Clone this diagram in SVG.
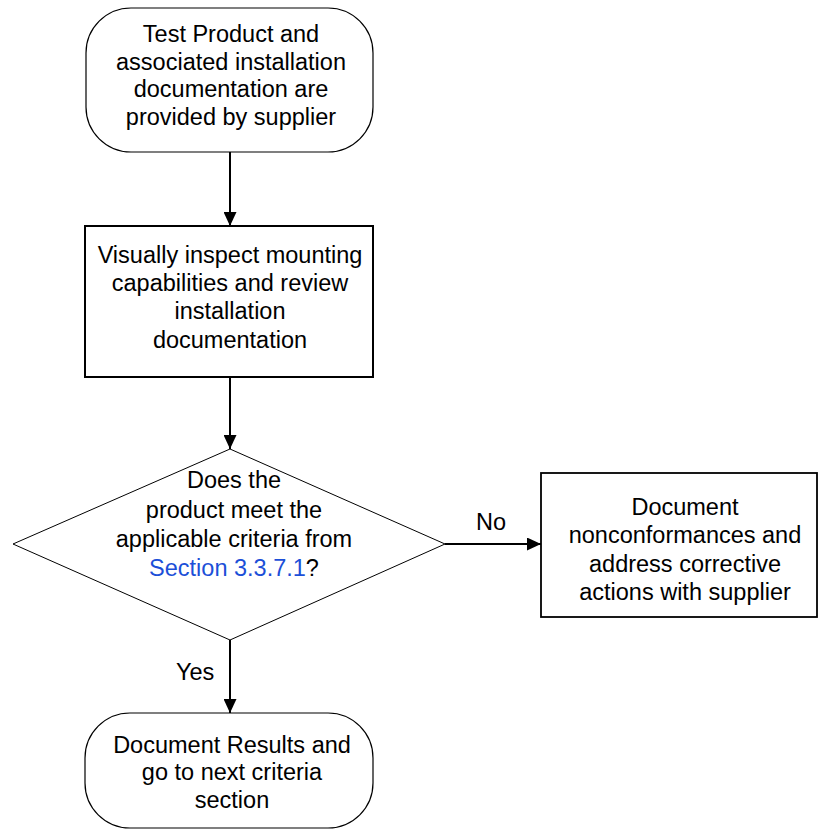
<svg xmlns="http://www.w3.org/2000/svg" width="819" height="830" viewBox="0 0 819 830">
<defs>
<style>
.t{font-family:"Liberation Sans",Arial,sans-serif;font-size:23.5px;fill:#000;text-anchor:middle}
.lbl{font-family:"Liberation Sans",Arial,sans-serif;font-size:23.5px;fill:#000}
.link{fill:#1c4fd8}
.edge{stroke:#000;stroke-width:2;fill:none}
</style>
<marker id="ah" markerWidth="14" markerHeight="13" refX="14" refY="6.5" orient="auto" markerUnits="userSpaceOnUse">
<path d="M0,0 L14,6.5 L0,13 Z" fill="#000"/>
</marker>
</defs>
<rect width="819" height="830" fill="#fff"/>
<g id="start">
<rect x="86" y="8" width="287" height="144" rx="45" ry="45" fill="#fff" stroke="#000" stroke-width="1.2"/>
<text class="t"><tspan x="231" y="42">Test Product and</tspan><tspan x="231" y="70">associated installation</tspan><tspan x="231" y="97">documentation are</tspan><tspan x="231" y="125">provided by supplier</tspan></text>
</g>
<g id="inspect">
<rect x="85" y="226" width="288" height="151" fill="#fff" stroke="#000" stroke-width="2"/>
<text class="t"><tspan x="230" y="263">Visually inspect mounting</tspan><tspan x="230" y="291">capabilities and review</tspan><tspan x="230" y="319">installation</tspan><tspan x="230" y="348">documentation</tspan></text>
</g>
<g id="decision">
<polygon points="230,449 445,544 230,640 13,544" fill="#fff" stroke="#000" stroke-width="1"/>
<text class="t"><tspan x="234" y="488">Does the</tspan><tspan x="234" y="518">product meet the</tspan><tspan x="234" y="547">applicable criteria from</tspan><tspan x="234" y="576"><tspan class="link">Section 3.3.7.1</tspan>?</tspan></text>
</g>
<g id="nonconform">
<rect x="541" y="473" width="276" height="144" fill="#fff" stroke="#000" stroke-width="1.8"/>
<text class="t"><tspan x="685" y="515">Document</tspan><tspan x="685" y="543">nonconformances and</tspan><tspan x="685" y="572">address corrective</tspan><tspan x="685" y="600">actions with supplier</tspan></text>
</g>
<g id="results">
<rect x="85" y="713" width="288" height="115" rx="45" ry="45" fill="#fff" stroke="#000" stroke-width="1.2"/>
<text class="t"><tspan x="232" y="753">Document Results and</tspan><tspan x="232" y="780">go to next criteria</tspan><tspan x="232" y="808">section</tspan></text>
</g>
<g id="connectors">
<line class="edge" x1="230" y1="152" x2="230" y2="226" marker-end="url(#ah)"/>
<line class="edge" x1="230" y1="377" x2="230" y2="449" marker-end="url(#ah)"/>
<line class="edge" x1="445" y1="544" x2="541" y2="544" marker-end="url(#ah)"/>
<line class="edge" x1="230" y1="640" x2="230" y2="713" marker-end="url(#ah)"/>
<text class="lbl" x="476" y="530">No</text>
<text class="lbl" x="176" y="680">Yes</text>
</g>
</svg>
